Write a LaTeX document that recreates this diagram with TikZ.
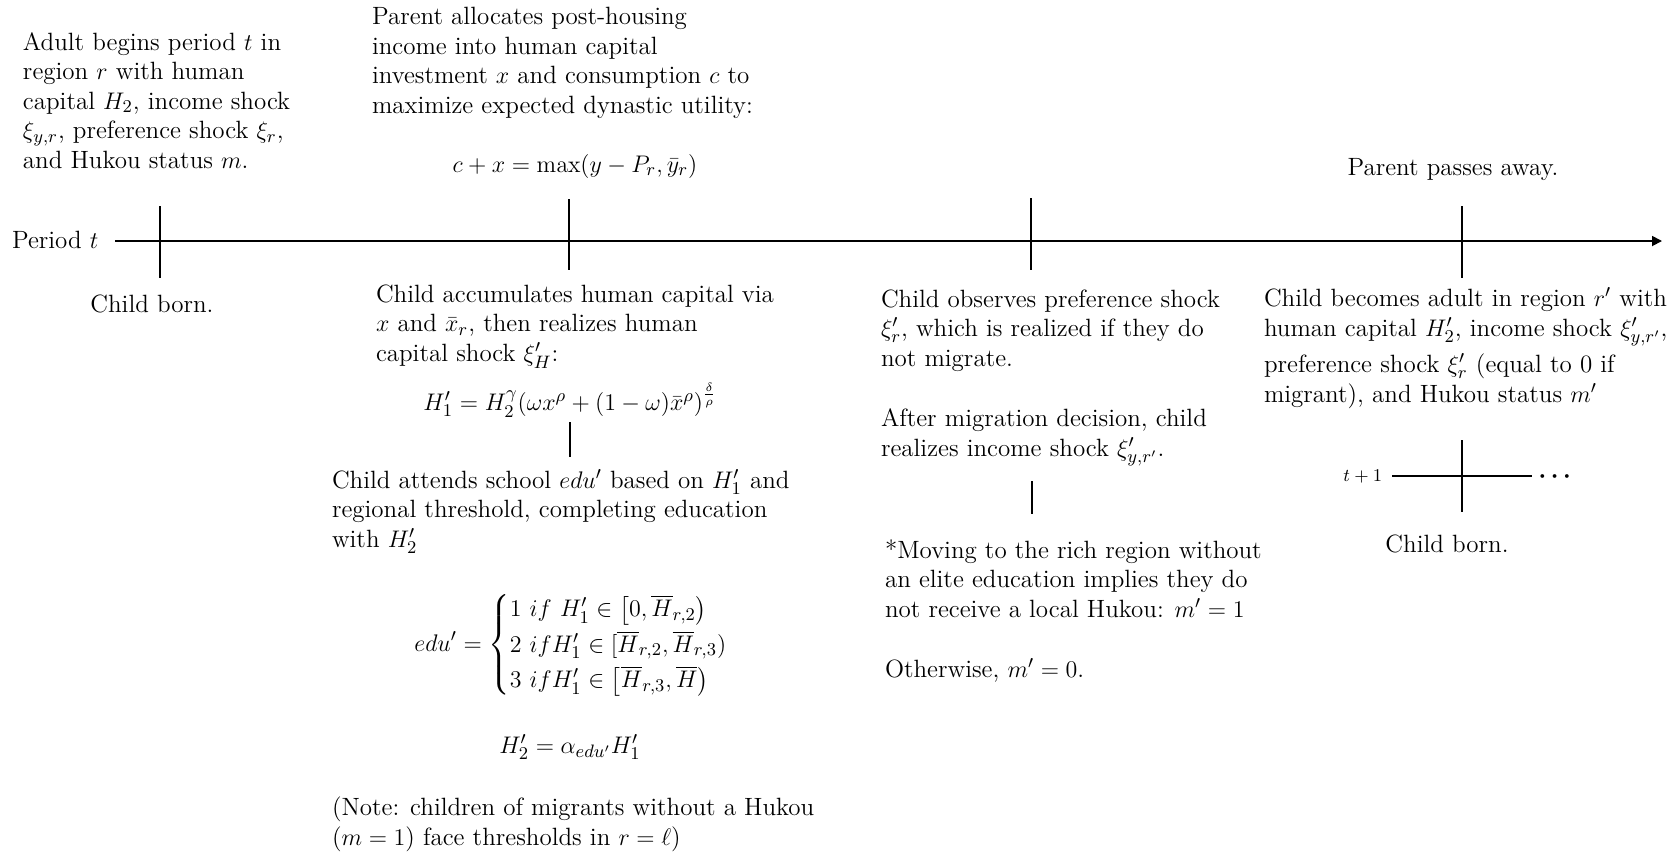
\documentclass[tikz,border=0pt]{standalone}
\usepackage{amsmath}
\usetikzlibrary{arrows.meta}
\begin{document}
\begin{tikzpicture}[x=0.5pt,y=-0.5pt,
  txt/.style={font=\fontsize{12.5}{14.75}\selectfont, inner sep=0pt, outer sep=0pt, align=left, anchor=base west},
  ctxt/.style={font=\fontsize{12.5}{14.75}\selectfont, inner sep=0pt, outer sep=0pt, anchor=base},
  smalltxt/.style={font=\fontsize{9.5}{11}\selectfont, inner sep=0pt, outer sep=0pt, anchor=base},
  axisline/.style={line width=0.9pt},
  tickline/.style={line width=0.9pt},
  conn/.style={line width=0.6pt}]
\useasboundingbox (0,0) rectangle (1675,853);

% main timeline (multi-line nodes are anchored at the baseline of their last line)
\node[txt] (period) at (12,248) {Period $t$};
\coordinate (tl0) at (115,241);
\coordinate (tl1) at (1662,241);
\draw[axisline,-{Triangle[length=5pt,width=5pt]}] (tl0) -- (tl1);
\draw[tickline] (160,206) -- (160,278);
\draw[tickline] (569,199) -- (569,270);
\draw[tickline] (1031,198) -- (1031,270);
\draw[tickline] (1462,206) -- (1462,278);

% block 1
\node[txt] (b1) at (23,168) {Adult begins period $t$ in\\ region $r$ with human\\ capital $H_2$, income shock\\ $\xi_{y,r}$, preference shock $\xi_r$,\\ and Hukou status $m$.};
\node[ctxt] (cb1) at (152,312) {Child born.};

% block 2
\node[txt] (b2) at (372,113) {Parent allocates post-housing\\ income into human capital\\ investment $x$ and consumption $c$ to\\ maximize expected dynastic utility:};
\node[ctxt] (eq1) at (575,172) {$c+x=\max(y-P_r,\bar{y}_r)$};

% block 3
\node[txt] (b3) at (376,361) {Child accumulates human capital via\\ $x$ and $\bar{x}_r$, then realizes human\\ capital shock $\xi'_H$:};
\node[ctxt] (eq2) at (570,410) {$H'_1=H_2^{\gamma}(\omega x^{\rho}+(1-\omega)\bar{x}^{\rho})^{\frac{\delta}{\rho}}$};
\coordinate (c3a) at (570,422);
\coordinate (c3b) at (570,457);
\draw[conn] (c3a) -- (c3b);

% block 4
\node[txt] (b4) at (332,547) {Child attends school $edu'$ based on $H'_1$ and\\ regional threshold, completing education\\ with $H'_2$};
\node[ctxt, anchor=center] (eqc) at (584,645) {\def\arraystretch{1.3}$\displaystyle edu' = \begin{cases} 1\ if\ H'_1\in\big[0,\overline{H}_{r,2}\big)\\ 2\ if H'_1\in[\overline{H}_{r,2},\overline{H}_{r,3})\\ 3\ if H'_1\in\big[\overline{H}_{r,3},\overline{H}\big)\end{cases}$};
\node[ctxt] (eq4) at (570,753) {$H'_2=\alpha_{edu'}H'_1$};
\node[txt] (b4n) at (332,845) {(Note: children of migrants without a Hukou\\ ($m=1$) face thresholds in $r=\ell$)};

% block 5
\node[txt] (b5) at (881,366) {Child observes preference shock\\ $\xi'_r$, which is realized if they do\\ not migrate.};
\node[txt] (b5b) at (881,456) {After migration decision, child\\ realizes income shock $\xi'_{y,r'}$.};
\coordinate (c5a) at (1032,481);
\coordinate (c5b) at (1032,514);
\draw[conn] (c5a) -- (c5b);
\node[txt] (b6) at (885,617) {*Moving to the rich region without\\ an elite education implies they do\\ not receive a local Hukou: $m'=1$};
\node[txt] (b6b) at (885,677) {Otherwise, $m'=0$.};

% block 7
\node[ctxt] (b7) at (1453,175) {Parent passes away.};
\node[txt] (b8) at (1264,402) {Child becomes adult in region $r'$ with\\ human capital $H'_2$, income shock $\xi'_{y,r'}$,\\[3.5pt] preference shock $\xi'_r$ (equal to 0 if\\ migrant), and Hukou status $m'$};

% next period
\node[smalltxt, anchor=base east] (tp1) at (1382,481) {$t+1$};
\node[ctxt, anchor=center, font=\fontsize{13}{15}\selectfont] (dots) at (1557,477) {$\boldsymbol{\cdots}$};
\draw[axisline] (1392,476) -- (1532,476);
\draw[tickline] (1462,440) -- (1462,512);
\node[ctxt] (cb2) at (1447,552) {Child born.};
\end{tikzpicture}
\end{document}
